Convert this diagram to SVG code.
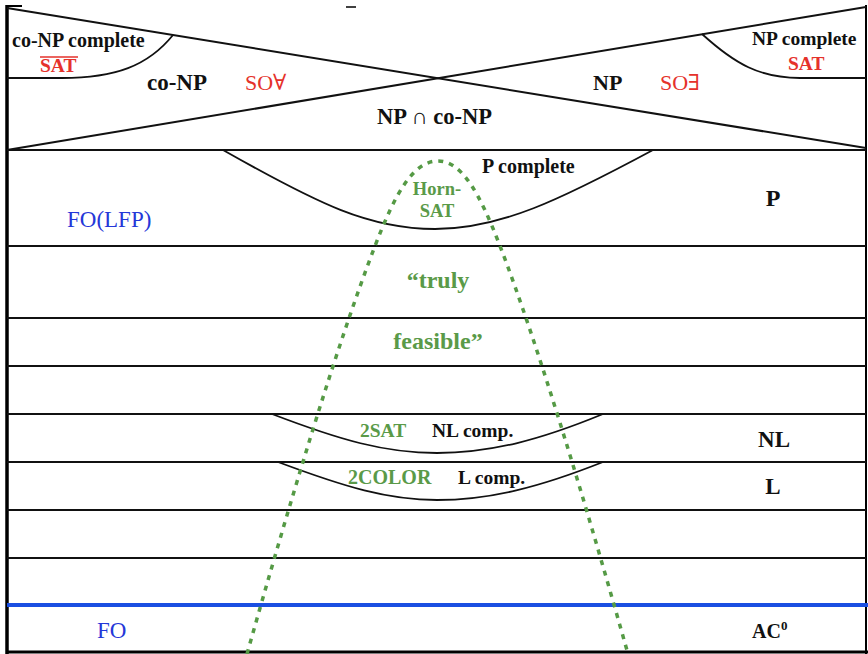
<svg xmlns="http://www.w3.org/2000/svg" width="868" height="654" viewBox="0 0 868 654">
<style>
.ln{stroke:#111;stroke-width:2;fill:none}
.cv{stroke:#111;stroke-width:1.8;fill:none}
text{font-family:'Liberation Serif','Times New Roman',Times,'DejaVu Serif',serif}
.b{font-weight:bold;fill:#111}
.r{fill:#e5322b}
.rb{font-weight:bold;fill:#e5322b}
.g{font-weight:bold;fill:#5a9a48}
.bl{fill:#2537d8}
</style>
<rect width="868" height="654" fill="#fff"/>
<g id="frame">
<line x1="7" y1="5" x2="7" y2="654" stroke="#000" stroke-width="3.5"/>
<line x1="7" y1="6" x2="22" y2="6" stroke="#000" stroke-width="2"/>
<line x1="866" y1="5" x2="866" y2="654" stroke="#000" stroke-width="2"/>
<line x1="7" y1="652" x2="868" y2="652" stroke="#000" stroke-width="3"/>
<line x1="346" y1="7" x2="356" y2="7" stroke="#000" stroke-width="1.5"/>
</g>
<g id="connectors">
<line class="ln" x1="7" y1="8" x2="866" y2="148" stroke-width="1.8"/>
<line class="ln" x1="7" y1="150" x2="866" y2="7" stroke-width="1.8"/>
<line class="ln" x1="7" y1="150" x2="866" y2="150"/>
<line class="ln" x1="7" y1="246" x2="866" y2="246"/>
<line class="ln" x1="7" y1="318" x2="866" y2="318"/>
<line class="ln" x1="7" y1="366" x2="866" y2="366"/>
<line class="ln" x1="7" y1="414" x2="866" y2="414"/>
<line class="ln" x1="7" y1="462" x2="866" y2="462"/>
<line class="ln" x1="7" y1="510" x2="866" y2="510"/>
<line class="ln" x1="7" y1="558" x2="866" y2="558"/>
<line x1="7" y1="605" x2="868" y2="605" stroke="#1a4fe2" stroke-width="4"/>
</g>
<g id="coNPcomplete">
<path class="cv" d="M7,78 L62,78 C115,78 148,66 173,35"/>
<text class="b" x="12" y="47" font-size="20">co-NP complete</text>
<text class="rb" x="40" y="72" font-size="19.5">SAT</text>
<line x1="40" y1="57" x2="78" y2="57" stroke="#e5322b" stroke-width="1.5"/>
</g>
<g id="coNP">
<text class="b" x="147" y="90" font-size="23">co-NP</text>
<text class="r" x="245" y="90" font-size="22">SO∀</text>
</g>
<g id="NP">
<text class="b" x="593" y="90" font-size="22">NP</text>
<text class="r" x="660" y="90" font-size="22">SO∃</text>
</g>
<g id="NPcomplete">
<path class="cv" d="M702,34 C735,64 760,78 800,78 L866,78"/>
<text class="b" x="752" y="45" font-size="19.5">NP complete</text>
<text class="rb" x="788" y="70" font-size="19.5">SAT</text>
</g>
<g id="NPcapcoNP">
<text class="b" x="377" y="124" font-size="22.5">NP ∩ co-NP</text>
</g>
<g id="Pcomplete">
<path class="cv" d="M223,150 C320,205 370,229 435,229 C500,229 560,200 653,150"/>
<text class="b" x="482" y="173" font-size="20">P complete</text>
</g>
<g id="HornSAT">
<text class="g" x="437" y="195" font-size="18.5" text-anchor="middle">Horn-</text>
<text class="g" x="437" y="217" font-size="18.5" text-anchor="middle">SAT</text>
</g>
<g id="P"><text class="b" x="773" y="206" font-size="24" text-anchor="middle">P</text></g>
<g id="FOLFP"><text class="bl" x="67" y="227" font-size="23">FO(LFP)</text></g>
<g id="truly">
<text class="g" x="438" y="288" font-size="24" text-anchor="middle">“truly</text>
<text class="g" x="438" y="349" font-size="24" text-anchor="middle">feasible”</text>
</g>
<g id="NLcomp">
<path class="cv" d="M272,414 C340,440 385,453 437,453 C490,453 540,440 603,414"/>
<text class="g" x="360" y="437" font-size="19.5">2SAT</text>
<text class="b" x="432" y="437" font-size="19.5">NL comp.</text>
</g>
<g id="NL"><text class="b" x="774" y="447" font-size="23" text-anchor="middle">NL</text></g>
<g id="Lcomp">
<path class="cv" d="M278,462 C345,487 388,500 437,500 C490,500 540,487 603,462"/>
<text class="g" x="348" y="484" font-size="20">2COLOR</text>
<text class="b" x="458" y="484" font-size="19.5">L comp.</text>
</g>
<g id="L"><text class="b" x="773" y="494" font-size="23" text-anchor="middle">L</text></g>
<g id="FO"><text class="bl" x="97" y="638" font-size="23">FO</text></g>
<g id="AC0"><text class="b" x="752" y="638" font-size="20">AC<tspan font-size="13" dy="-8">0</tspan></text></g>
<g id="feasibleRegion">
<path d="M247,654 C287,512 335,350 375,246 C395,194 413,161 438,161 C462,161 480,194 500,246 C540,350 588,512 628,654" fill="none" stroke="#559a45" stroke-width="3.5" stroke-dasharray="5,6"/>
</g>
</svg>
